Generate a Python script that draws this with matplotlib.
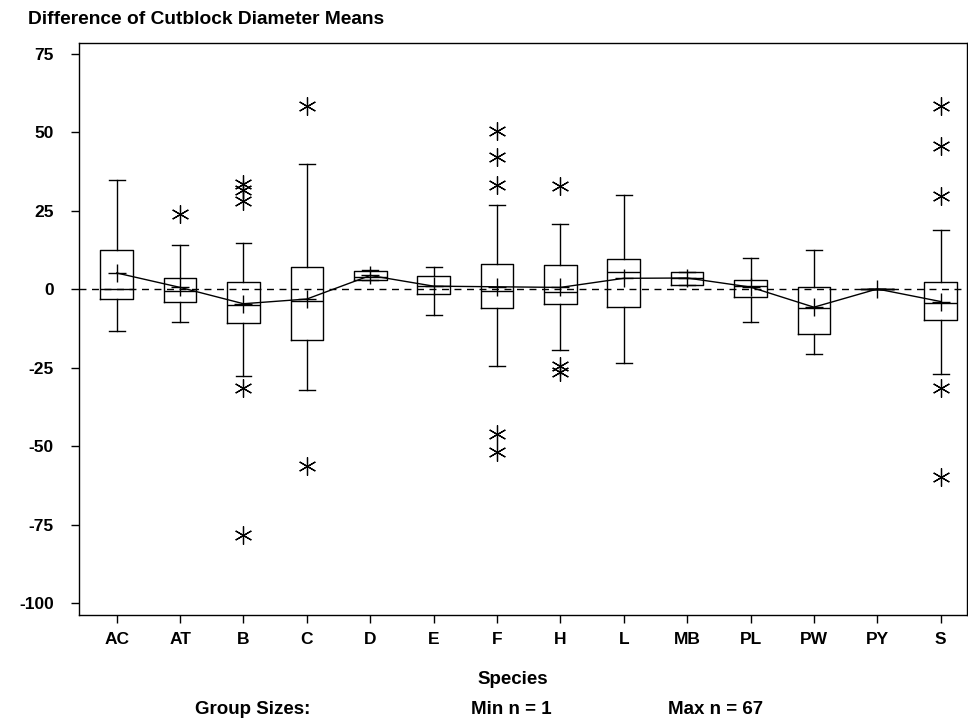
import matplotlib
matplotlib.use("Agg")
import matplotlib.pyplot as plt
from matplotlib import font_manager
import numpy as np

# condensed bold if the box has one, otherwise plain Liberation Sans
fams = set(f.name for f in font_manager.fontManager.ttflist)
FONT = ['Liberation Sans Narrow', 'DejaVu Sans'] if 'Liberation Sans Narrow' in fams else ['Liberation Sans', 'DejaVu Sans']
plt.rcParams['font.family'] = FONT

species = ['AC', 'AT', 'B', 'C', 'D', 'E', 'F', 'H', 'L', 'MB', 'PL', 'PW', 'PY', 'S']
whislo = [-13.3, -10.4, -27.6, -32.0, 3.0, -8.3, -24.4, -19.3, -23.5, 1.4, -10.4, -20.5, 0.1, -26.9]
q1 = [-3.1, -4.2, -10.8, -16.3, 3.0, -1.4, -6.0, -4.6, -5.7, 1.4, -2.4, -14.2, 0.1, -9.8]
med = [0.0, -0.4, -5.0, -3.6, 4.0, 0.9, -0.5, -1.0, 5.5, 3.6, 1.2, -6.0, 0.1, -4.4]
q3 = [12.5, 3.6, 2.2, 7.1, 5.9, 4.1, 8.2, 7.9, 9.7, 5.5, 3.1, 0.6, 0.1, 2.3]
whishi = [34.7, 14.0, 14.8, 40.0, 6.0, 7.2, 26.9, 20.8, 30.1, 5.5, 10.0, 12.4, 0.1, 19.0]
means = [5.2, 0.6, -4.6, -3.1, 4.4, 1.0, 0.8, 0.6, 3.5, 3.6, 0.7, -5.7, 0.1, -3.9]
outliers = [
    [],
    [24.0],
    [33.5, 31.5, 28.0, -31.5, -78.3],
    [58.3, -56.3],
    [],
    [],
    [50.6, 42.3, 33.2, -46.2, -51.8],
    [32.8, -24.4, -26.5],
    [],
    [],
    [],
    [],
    [],
    [58.5, 45.8, 29.8, -31.5, -59.8],
]

pos = np.arange(1, len(species) + 1)

fig = plt.figure(figsize=(9.68, 7.26), dpi=100)
ax = fig.add_axes([0.0816, 0.1529, 0.917, 0.7879])

stats = []
for i in range(len(species)):
    stats.append(dict(med=med[i], q1=q1[i], q3=q3[i], whislo=whislo[i],
                      whishi=whishi[i], fliers=outliers[i], label=species[i]))

star = (6, 2, 0)
ax.bxp(stats, positions=pos, widths=0.515, showfliers=True,
       boxprops=dict(color='black', lw=1.0),
       whiskerprops=dict(color='black', lw=1.0),
       capprops=dict(color='black', lw=1.0),
       medianprops=dict(color='black', lw=1.0),
       flierprops=dict(marker=star, markersize=13, markeredgecolor='black',
                       markerfacecolor='none', markeredgewidth=0.9, linestyle='none'),
       capwidths=0.25)

ax.axhline(0, color='black', lw=1.0, ls=(0, (5, 4)), zorder=1)
ax.plot(pos, means, color='black', lw=1.0, marker='+', markersize=13,
        markeredgewidth=1.0, zorder=3)

ax.set_xlim(0.405, 14.41)
ax.set_ylim(-103.8, 78.5)
ax.set_yticks([75, 50, 25, 0, -25, -50, -75, -100])
ax.set_yticklabels(['75', '50', '25', '0', '-25', '-50', '-75', '-100'])
ax.set_xticks(pos)
ax.set_xticklabels(species)
ax.tick_params(axis='both', direction='out', length=6, width=1, labelsize=12.5)
ax.tick_params(axis='y', pad=12)
ax.tick_params(axis='x', pad=6)
for lab in ax.get_xticklabels() + ax.get_yticklabels():
    lab.set_fontweight('bold')
for s in ax.spines.values():
    s.set_linewidth(1.0)

fig.text(28 / 968, 1 - 19 / 726, 'Difference of Cutblock Diameter Means',
         fontsize=13.8, fontweight='bold', ha='left', va='center')
fig.text(513 / 968, 1 - 680 / 726, 'Species', fontsize=13.5, fontweight='bold',
         ha='center', va='center')
fig.text(253 / 968, 1 - 709 / 726, 'Group Sizes:', fontsize=13.5, fontweight='bold',
         ha='center', va='center')
fig.text(511 / 968, 1 - 709 / 726, 'Min n = 1', fontsize=13.5, fontweight='bold',
         ha='center', va='center')
fig.text(716 / 968, 1 - 709 / 726, 'Max n = 67', fontsize=13.5, fontweight='bold',
         ha='center', va='center')

fig.savefig('out.png', dpi=100)
